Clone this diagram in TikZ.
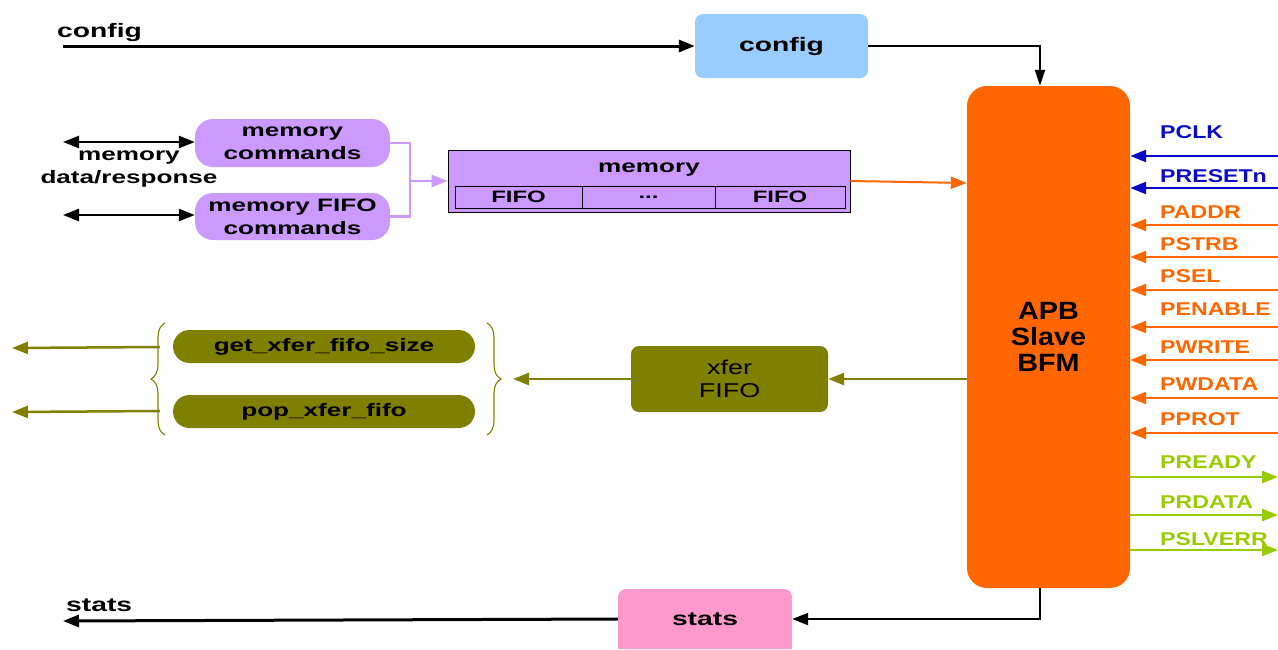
\documentclass[tikz,border=0pt]{standalone}
\usepackage{fontspec}
\setmainfont{Liberation Sans}
\newfontfamily\lblfont[FakeStretch=1.45]{Liberation Sans}
\newfontfamily\sigfont[FakeStretch=1.25]{Liberation Sans}
\newfontfamily\apbfont[FakeStretch=1.15]{Liberation Sans}
\newfontfamily\xferfont[FakeStretch=1.35]{Liberation Sans}
\usetikzlibrary{arrows.meta,decorations.pathreplacing}

\definecolor{cfgblue}{HTML}{99CCFF}
\definecolor{apborange}{HTML}{FF6600}
\definecolor{mempurple}{HTML}{CC99FF}
\definecolor{olivec}{HTML}{808000}
\definecolor{statspink}{HTML}{FF99CC}
\definecolor{sigblue}{HTML}{0A0ACC}
\definecolor{siggreen}{HTML}{99CC00}

\newcommand\lblstyle{\lblfont\bfseries\fontsize{18}{23}\selectfont}
\newcommand\bigstyle{\lblfont\bfseries\fontsize{19.5}{23}\selectfont}
\newcommand\cellstyle{\lblfont\bfseries\fontsize{16.5}{20}\selectfont}
\newcommand\sigstyle{\sigfont\bfseries\fontsize{18.5}{22}\selectfont}
\newcommand\apbstyle{\apbfont\bfseries\fontsize{25}{26}\selectfont}
\newcommand\xferstyle{\xferfont\fontsize{20}{23}\selectfont}

\begin{document}
\begin{tikzpicture}[x=1pt,y=-1pt,
  box/.style={inner sep=0pt, align=center, font=\lblstyle},
  cell/.style={draw=black, line width=0.8pt, inner sep=0pt, minimum height=22pt, font=\cellstyle},
  sig/.style={inner sep=0pt, font=\sigstyle},
  arr/.style={-{Triangle[length=16pt,width=12pt]}},
  darr/.style={{Triangle[length=16pt,width=12pt]}-{Triangle[length=16pt,width=12pt]}},
  sigline/.style={line width=2.5pt},
  bline/.style={draw=black, line width=3pt},
  oline/.style={draw=olivec, line width=2.5pt},
  curly/.style={draw=olivec, line width=1.1pt, decorate, decoration={brace, amplitude=14pt}}]
\useasboundingbox (0,0) rectangle (1278,649);
\clip (0,0) rectangle (1278,649);

% ---------- blocks ----------
\node[box, fill=apborange, minimum width=163pt, minimum height=502pt,
      rounded corners=20pt, font=\apbstyle] (apb) at (1048.5,337) {APB\\Slave\\BFM};
\node[box, fill=cfgblue, minimum width=173pt, minimum height=64pt,
      rounded corners=8pt, font=\bigstyle] (cfg) at (781.5,46) {config};
\node[box, fill=mempurple, minimum width=195pt, minimum height=48pt,
      rounded corners=18pt] (mcmd) at (292.5,143) {memory\\commands};
\node[box, fill=mempurple, minimum width=195pt, minimum height=47pt,
      rounded corners=18pt] (mfcmd) at (292.5,216.5) {memory FIFO\\commands};
\node[box, fill=olivec, minimum width=197pt, minimum height=66pt,
      rounded corners=8pt, font=\xferstyle] (xfer) at (729.5,379) {xfer\\FIFO};
\node[box, fill=olivec, minimum width=302pt, minimum height=33pt,
      rounded corners=16.5pt] (getsz) at (324,346.5) {get\_xfer\_fifo\_size};
\node[box, fill=olivec, minimum width=302pt, minimum height=33pt,
      rounded corners=16.5pt] (pop) at (324,411.5) {pop\_xfer\_fifo};
\node[box, fill=statspink, minimum width=174pt, minimum height=60pt,
      rounded corners=8pt, font=\bigstyle] (stats) at (705,619) {stats};
\fill[statspink] (stats.south west) rectangle ([shift={(0,-12)}]stats.south east);

% memory with its FIFO row
\node[box, draw=black, line width=0.8pt, fill=mempurple, minimum width=402pt,
      minimum height=62pt] (mem) at (649,181) {};
\node[box, anchor=base] (memlbl) at (649,172) {memory};
\node[cell, minimum width=127pt] (fifoa) at (518.5,197) {FIFO};
\node[cell, minimum width=133pt] (fifodots) at (648.5,197) {...};
\node[cell, minimum width=130pt] (fifob) at (780,197) {FIFO};

% ---------- free labels ----------
\node[box, anchor=base west, font=\bigstyle] (cfglbl) at (57,37) {config};
\node[box, anchor=base west, font=\bigstyle] (statslbl) at (66,611) {stats};
\node[box] (mdr) at (129,169) {memory\\data/response};

% ---------- config / stats paths ----------
\coordinate (cfgin) at (63,46);
\draw[bline, arr] (cfgin) -- (cfg.west);
\draw[line width=2.2pt, -{Triangle[length=16pt,width=10pt]}]
  (cfg.east) -| ([xshift=-8.5pt]apb.north);
\draw[line width=2.2pt, arr] ([xshift=-8.5pt]apb.south) |- (stats.east);
\coordinate (statsout) at (63,621);
\draw[bline, arr] (stats.west) -- (statsout);

% ---------- memory paths ----------
\coordinate (mdra) at (63,142);
\coordinate (mdrb) at (63,215);
\draw[line width=2.5pt, darr] (mdra) -- (mcmd.west |- mdra);
\draw[line width=2.5pt, darr] (mdrb) -- (mfcmd.west |- mdrb);
\coordinate (mjoin) at (410,181);
\draw[draw=mempurple, line width=2.5pt] (mcmd.east) -| (mjoin) |- (mfcmd.east);
\draw[draw=mempurple, line width=2.5pt, arr] (mjoin) -- (mem.west |- mjoin);
\draw[draw=apborange, line width=2pt, arr] (mem.east) -- ([yshift=-2pt]mem.east -| apb.west);

% ---------- transfer FIFO paths ----------
\draw[oline, arr] (apb.west |- xfer.east) -- (xfer.east);
\draw[curly] (165,435) -- (165,323);
\draw[curly] (487,323) -- (487,435);
\coordinate (brtip) at (513,379);
\draw[oline, arr] (xfer.west) -- (brtip);
\coordinate (lba) at (160,347);
\coordinate (lbb) at (160,411);
\coordinate (outa) at (12,348);
\coordinate (outb) at (12,412);
\draw[oline, arr] (lba) -- (outa);
\draw[oline, arr] (lbb) -- (outb);

% ---------- APB signals ----------
\foreach \nm/\ly/\sy/\col in {PCLK/138/156/sigblue, PRESETn/182/188/sigblue,
    PADDR/218/225/apborange, PSTRB/250/257/apborange, PSEL/282/290/apborange,
    PENABLE/315/327/apborange, PWRITE/353/360/apborange, PWDATA/390/398/apborange,
    PPROT/425/433/apborange}{
  \node[sig, text=\col, anchor=base west] (lbl-\nm) at (1160,\ly) {\nm};
  \coordinate (end-\nm) at (1278,\sy);
  \draw[sigline, draw=\col, arr] (end-\nm) -- (end-\nm -| apb.east);
}
\foreach \nm/\ly/\sy in {PREADY/468/477, PRDATA/508/515, PSLVERR/545/550}{
  \node[sig, text=siggreen, anchor=base west] (lbl-\nm) at (1160,\ly) {\nm};
  \coordinate (end-\nm) at (1278,\sy);
  \draw[sigline, draw=siggreen, arr] (end-\nm -| apb.east) -- (end-\nm);
}
\end{tikzpicture}
\end{document}
